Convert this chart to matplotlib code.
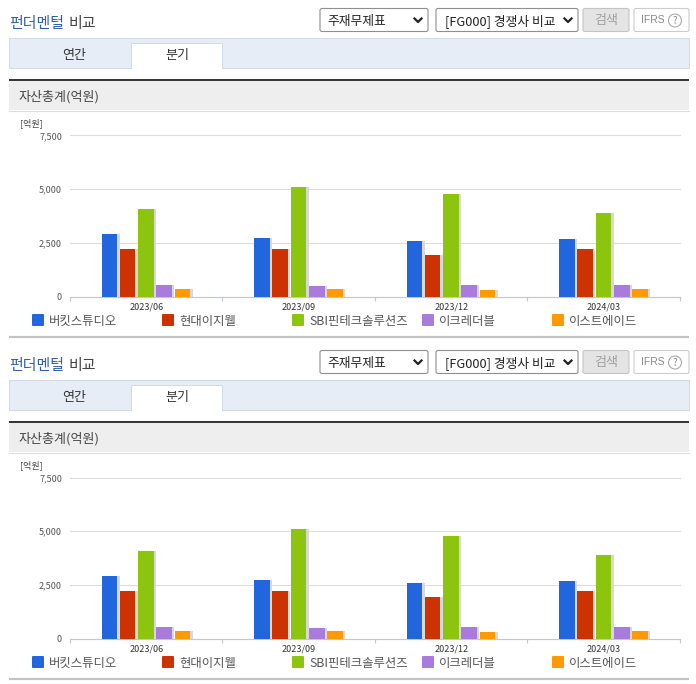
import matplotlib
matplotlib.use('Agg')
import matplotlib.pyplot as plt
from matplotlib.patches import Rectangle, FancyBboxPatch, Circle
import numpy as np

plt.rcParams['font.family'] = ['Noto Sans CJK KR', 'DejaVu Sans']

W, H = 696, 684
panelOffset = 342

quarters = ['2023/06', '2023/09', '2023/12', '2024/03']
companies = ['버킷스튜디오', '현대이지웰', 'SBI핀테크솔루션즈', '이크레더블', '이스트에이드']
colors = ['#2166dc', '#cc3300', '#8cc40e', '#a87bdc', '#ff9900']
bucket = [2920, 2740, 2590, 2680]
hyundai = [2210, 2210, 1930, 2210]
sbi = [4080, 5110, 4770, 3890]
ecredible = [540, 490, 540, 540]
east = [350, 350, 300, 350]
yTicks = [0, 2500, 5000, 7500]
yLabels = ['0', '2,500', '5,000', '7,500']
legendX = [32, 162, 292, 422, 552]

fig = plt.figure(figsize=(W / 100, H / 100), dpi=100)

# whole figure overlay in pixel coordinates for the page parts
bg = fig.add_axes([0, 0, 1, 1])
bg.set_xlim(0, W)
bg.set_ylim(H, 0)
bg.axis('off')

def box(x, y, w, h, fc, ec='none', lw=0.7):
  bg.add_patch(Rectangle((x, y), w, h, fc=fc, ec=ec, lw=lw))

def rbox(x, y, w, h, fc, ec):
  bg.add_patch(FancyBboxPatch((x + 2, y + 2), w - 4, h - 4, boxstyle='round,pad=2', fc=fc, ec=ec, lw=0.8))

def chevron(x, y):
  bg.plot([x - 3.5, x, x + 3.5], [y - 1.5, y + 2, y - 1.5], color='#222222', lw=1.6)

def drawPanel(off):
  bg.text(9, 24 + off, '펀더멘털', color='#2f5fb5', fontsize=10.8, va='center', fontweight='medium')
  bg.text(69, 24 + off, '비교', color='#444444', fontsize=10.8, va='center', fontweight='medium')

  rbox(320, 8.5 + off, 108, 23, 'white', '#8f8f8f')
  bg.text(327, 21 + off, '주재무제표', color='#222222', fontsize=9.2, va='center')
  chevron(418, 20 + off)
  rbox(436, 8.5 + off, 142, 23, 'white', '#8f8f8f')
  bg.text(445, 21 + off, '[FG000] 경쟁사 비교', color='#222222', fontsize=9.2, va='center')
  chevron(568, 20 + off)
  rbox(583, 8.5 + off, 46, 23, '#e4e4e4', '#c4c4c4')
  bg.text(606, 20.5 + off, '검색', color='#a0a0a0', fontsize=9.4, va='center', ha='center')
  rbox(634, 8.5 + off, 55, 23, 'white', '#cccccc')
  bg.text(641, 20 + off, 'IFRS', color='#888888', fontsize=7.5, va='center', family='Liberation Sans')
  bg.add_patch(Circle((675, 20.5 + off), 6.5, fc='white', ec='#aaaaaa', lw=0.8))
  bg.text(675, 21 + off, '?', color='#888888', fontsize=7, va='center', ha='center')

  # tab strip
  box(9, 38 + off, 679.5, 29.5, '#e6edf7', '#d3dae6')
  box(131, 43 + off, 91, 25, 'white', '#d3dae6')
  box(131.5, 66 + off, 90, 3, 'white')
  bg.text(74, 55 + off, '연간', color='#333333', fontsize=9.4, ha='center', va='center')
  bg.text(177, 56 + off, '분기', color='#333333', fontsize=9.4, ha='center', va='center')

  # section header
  box(9, 80 + off, 680, 30, '#eeeeee')
  bg.plot([9, 689], [110.5 + off, 110.5 + off], color='#dddddd', lw=0.8)
  bg.plot([9, 689], [79.5 + off, 79.5 + off], color='#333333', lw=1.4, solid_capstyle='butt')
  bg.text(19, 96.5 + off, '자산총계(억원)', color='#444444', fontsize=9.4, va='center')

  bg.text(20, 123 + off, '[억원]', color='#444444', fontsize=6.5, va='center')

  # legend
  for x, name, color in zip(legendX, companies, colors):
    bg.add_patch(FancyBboxPatch((x + 1, 315 + off), 10, 10, boxstyle='round,pad=1', fc=color, ec='none'))
    bg.text(x + 17, 321.5 + off, name, color='#555555', fontsize=8.9, va='center')

  bg.plot([9, 689], [337 + off, 337 + off], color='#c4c4c4', lw=1.6, solid_capstyle='butt')

  # chart
  top = 135.5 + off
  bottom = 296.5 + off
  ax = fig.add_axes([70 / W, 1 - bottom / H, 610 / W, (bottom - top) / H])
  ax.patch.set_alpha(0)
  ax.set_xlim(0, 4)
  ax.set_ylim(0, 7500)
  for s in ['top', 'right', 'left']:
    ax.spines[s].set_visible(False)
  ax.spines['bottom'].set_color('#c0c8d8')
  ax.set_yticks(yTicks)
  ax.set_yticklabels(yLabels, fontsize=6.5, color='#555555')
  ax.tick_params(axis='y', length=0, pad=5.8)
  ax.grid(axis='y', color='#dddddd', lw=0.8, clip_on=False)
  ax.set_axisbelow(True)
  ax.set_xticks([0, 1, 2, 3, 4])
  ax.set_xticklabels([])
  ax.tick_params(axis='x', length=3, direction='out', color='#c0c8d8')
  for i, q in enumerate(quarters):
    ax.text(i + 0.5, -480, q, fontsize=6.5, color='#333333', ha='center', va='center', clip_on=False)

  series = [bucket, hyundai, sbi, ecredible, east]
  x = np.arange(4) + 0.5
  for j, (vals, color) in enumerate(zip(series, colors)):
    pos = x + (j - 2) * 0.12 - 0.002
    # grey drop shadow right of each bar
    ax.bar(pos + 0.016, vals, width=0.102, color='#d8d8d8', zorder=2)
    ax.bar(pos, vals, width=0.102, color=color, zorder=3)

drawPanel(0)
drawPanel(panelOffset)

plt.savefig('out.png', dpi=100)
